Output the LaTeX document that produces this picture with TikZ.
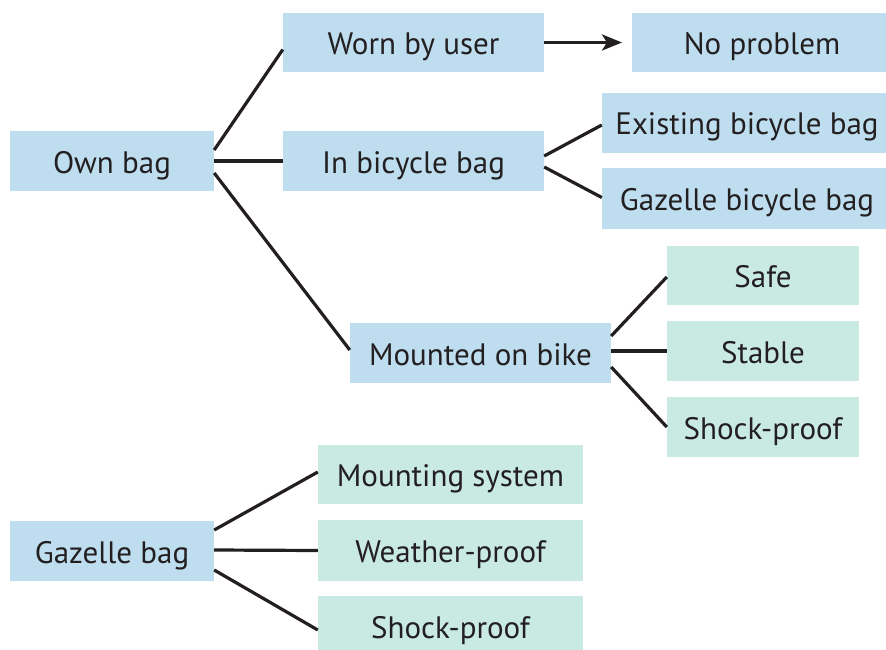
\documentclass[tikz,border=0pt]{standalone}
\usepackage{fontspec}
\setmainfont{PT Sans}
\usetikzlibrary{arrows.meta}
\definecolor{boxblue}{RGB}{190,222,240}
\definecolor{boxgreen}{RGB}{200,234,226}
\definecolor{inkdark}{RGB}{35,31,32}
\tikzset{
  item/.style={fill=#1,inner sep=0pt,text=inkdark,text height=24pt,text depth=0pt,
    font=\fontsize{31}{36}\selectfont},
  item/.default=boxblue,
  link/.style={line width=3.2pt,draw=inkdark}
}
\begin{document}
\begin{tikzpicture}[x=1pt,y=-1pt]
\useasboundingbox (0,0) rectangle (886,650);
% bag carried by the user
\node[item,minimum width=204pt,minimum height=60pt,name=own] at (112,161){Own bag};
\node[item,minimum width=261pt,minimum height=59pt,name=worn] at (413.5,42.5){Worn by user};
\node[item,minimum width=260pt,minimum height=59pt,name=noprob] at (762,42.5){No problem};
\node[item,minimum width=261pt,minimum height=60pt,name=inbag] at (413.5,161){In bicycle bag};
\node[item,minimum width=290pt,minimum height=60pt,name=exist] at (747,123){Existing bicycle bag};
\node[item,minimum width=290pt,minimum height=61pt,name=gzbag] at (747,198.5){Gazelle bicycle bag};
\node[item,minimum width=261pt,minimum height=60pt,name=mounted] at (480.5,353){Mounted on bike};
\node[item=boxgreen,minimum width=192pt,minimum height=59pt,name=safe] at (763,275){Safe};
\node[item=boxgreen,minimum width=192pt,minimum height=60pt,name=stable] at (763,351){Stable};
\node[item=boxgreen,minimum width=192pt,minimum height=60pt,name=shockA] at (763,427){Shock-proof};
% bag supplied by Gazelle
\node[item,minimum width=204pt,minimum height=60pt,name=gazelle] at (112,551){Gazelle bag};
\node[item=boxgreen,minimum width=265pt,minimum height=59pt,name=mount] at (450.5,474){Mounting system};
\node[item=boxgreen,minimum width=265pt,minimum height=61pt,name=weather] at (450.5,550.5){Weather-proof};
\node[item=boxgreen,minimum width=265pt,minimum height=60pt,name=shockB] at (450.5,626){Shock-proof};
\foreach \a/\s/\b/\t in {own/11/worn/-7,own/0/inbag/0,own/-12/mounted/3,
    inbag/5/exist/-2,inbag/-6/gzbag/1,
    mounted/17/safe/-2,mounted/2/stable/0,mounted/-14/shockA/0,
    gazelle/21/mount/2,gazelle/1/weather/0,gazelle/-19/shockB/-4}{
	\draw[link] ([yshift=\s pt]\a.east)--([yshift=\t pt]\b.west);
};
\draw[link,-{Stealth[length=20pt,width=16pt,inset=5pt]}] (worn.east)--(622,42.5);
\end{tikzpicture}
\end{document}
